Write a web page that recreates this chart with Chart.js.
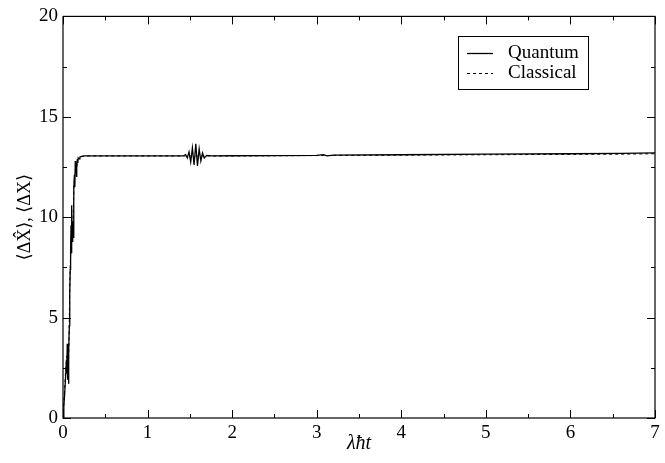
<!DOCTYPE html>
<html>
<head>
<meta charset="utf-8">
<script src="https://cdn.jsdelivr.net/npm/chart.js@4.4.1/dist/chart.umd.min.js"></script>
<style>
  body { margin: 0; background: #fff; }
  #wrap { width: 665px; height: 463px; }
</style>
</head>
<body>
<div id="wrap"><canvas id="chart" width="665" height="463"></canvas></div>
<script>
// time axis (lambda hbar t) and the two widths
const tValues = [0, 0.01, 0.02, 0.03, 0.04, 0.045, 0.05, 0.055, 0.06, 0.065, 0.07, 0.075, 0.08, 0.085, 0.09,
  0.095, 0.10, 0.105, 0.11, 0.115, 0.12, 0.125, 0.13, 0.135, 0.14, 0.145, 0.15, 0.155, 0.16, 0.165, 0.17,
  0.175, 0.18, 0.19, 0.20, 0.22, 0.25, 0.3, 0.5, 0.8, 1.0, 1.2, 1.4, 1.42, 1.45, 1.47, 1.49, 1.51, 1.53,
  1.55, 1.57, 1.59, 1.61, 1.63, 1.65, 1.67, 1.70, 1.76, 2.0, 2.5, 3.0, 3.08, 3.12, 3.2, 4.0, 5.0, 6.0, 6.6, 7.0];

const quantum = [0, 0.6, 1.2, 2.0, 2.9, 2.2, 3.7, 1.9, 3.2, 1.7, 3.4, 4.6, 6.2, 7.4, 8.3,
  9.6, 8.2, 10.6, 8.8, 9.8, 9.0, 10.3, 11.4, 12.1, 11.5, 12.8, 12.2, 12.7, 12.0, 12.5, 12.9,
  12.7, 12.95, 12.9, 13.0, 13.03, 13.05, 13.05, 13.05, 13.05, 13.05, 13.05, 13.05, 13.05, 13.12, 12.95, 13.25, 12.75, 13.45,
  12.6, 13.65, 12.55, 13.4, 12.8, 13.2, 12.95, 13.08, 13.05, 13.06, 13.07, 13.08, 13.12, 13.05, 13.09, 13.11, 13.14, 13.16, 13.18, 13.2];

const classical = [0, 0.8, 1.5, 2.3, 2.8, 3.1, 2.6, 2.2, 2.5, 2.8, 3.6, 5.0, 6.5, 7.6, 8.0,
  8.8, 9.4, 9.1, 9.6, 9.2, 9.9, 10.8, 11.6, 11.9, 12.0, 12.3, 12.4, 12.5, 12.3, 12.6, 12.8,
  12.85, 12.9, 12.95, 13.0, 13.02, 13.04, 13.05, 13.05, 13.05, 13.05, 13.05, 13.05, 13.05, 13.05, 13.05, 13.05, 13.05, 13.05,
  13.05, 13.05, 13.05, 13.05, 13.05, 13.05, 13.05, 13.05, 13.05, 13.05, 13.06, 13.07, 13.07, 13.07, 13.08, 13.09, 13.11, 13.13, 13.14, 13.16];

const xTicks = [0, 1, 2, 3, 4, 5, 6, 7];
const yTicks = [0, 5, 10, 15, 20];

const serif = '"Liberation Serif", "DejaVu Serif", serif';

function toPoints(ys) {
  return tValues.map((t, i) => ({ x: t, y: ys[i] }));
}

// frame, inward ticks on all four sides, and the boxed legend
const framePlugin = {
  id: 'frame',
  afterDraw(chart) {
    const ctx = chart.ctx;
    const a = chart.chartArea;
    const xs = chart.scales.x;
    const ys = chart.scales.y;
    ctx.save();
    ctx.strokeStyle = '#000';
    ctx.lineWidth = 1.2;
    ctx.strokeRect(a.left, a.top, a.right - a.left, a.bottom - a.top);

    ctx.lineWidth = 1;
    ctx.beginPath();
    for (let v = 0; v <= 7.001; v += 0.5) {
      const px = Math.round(xs.getPixelForValue(v)) + 0.5;
      const len = Number.isInteger(v) ? 8 : 4;
      ctx.moveTo(px, a.bottom); ctx.lineTo(px, a.bottom - len);
      ctx.moveTo(px, a.top); ctx.lineTo(px, a.top + len);
    }
    for (let v = 0; v <= 20.001; v += 2.5) {
      const py = Math.round(ys.getPixelForValue(v)) + 0.5;
      const len = (v % 5 === 0) ? 8 : 4;
      ctx.moveTo(a.left, py); ctx.lineTo(a.left + len, py);
      ctx.moveTo(a.right, py); ctx.lineTo(a.right - len, py);
    }
    ctx.stroke();

    // legend
    ctx.lineWidth = 1;
    ctx.strokeRect(458.5, 36.5, 130, 53);
    ctx.font = '19px ' + serif;
    ctx.fillStyle = '#000';
    ctx.textBaseline = 'middle';
    chart.data.datasets.forEach((ds, i) => {
      const y = 53 + i * 20;
      ctx.beginPath();
      ctx.lineWidth = ds.borderWidth;
      ctx.setLineDash(ds.borderDash || []);
      ctx.moveTo(467, y + 0.5); ctx.lineTo(493, y + 0.5);
      ctx.stroke();
      ctx.setLineDash([]);
      ctx.fillText(ds.label, 508, y);
    });
    ctx.restore();
  }
};

new Chart(document.getElementById('chart'), {
  type: 'line',
  data: {
    datasets: [
      {
        label: 'Quantum',
        data: toPoints(quantum),
        borderColor: '#000',
        borderWidth: 1.3,
        pointRadius: 0,
        tension: 0
      },
      {
        label: 'Classical',
        data: toPoints(classical),
        borderColor: '#000',
        borderWidth: 1,
        borderDash: [3, 3],
        pointRadius: 0,
        tension: 0
      }
    ]
  },
  options: {
    responsive: false,
    animation: false,
    layout: { padding: { top: 14, right: 10, left: 0, bottom: 0 } },
    plugins: { legend: { display: false }, tooltip: { enabled: false } },
    scales: {
      x: {
        type: 'linear',
        min: 0, max: 7,
        afterBuildTicks: (s) => { s.ticks = xTicks.map(v => ({ value: v })); },
        afterFit: (s) => { s.height = 45; },
        grid: { display: false, drawTicks: false },
        border: { display: false },
        ticks: { color: '#000', font: { family: serif, size: 19 }, padding: 4 },
        title: {
          display: true,
          text: 'λħt',
          color: '#000',
          font: { family: serif, size: 20, style: 'italic' },
          padding: { top: 0, bottom: 7 }
        }
      },
      y: {
        min: 0, max: 20,
        afterBuildTicks: (s) => { s.ticks = yTicks.map(v => ({ value: v })); },
        afterFit: (s) => { s.width = 63; },
        grid: { display: false, drawTicks: false },
        border: { display: false },
        ticks: { color: '#000', font: { family: serif, size: 19 }, padding: 5 },
        title: {
          display: true,
          text: '⟨ΔX̂⟩, ⟨ΔX⟩',
          color: '#000',
          font: { family: serif, size: 18 },
          padding: { top: 14, bottom: 0 }
        }
      }
    }
  },
  plugins: [framePlugin]
});
</script>
</body>
</html>
